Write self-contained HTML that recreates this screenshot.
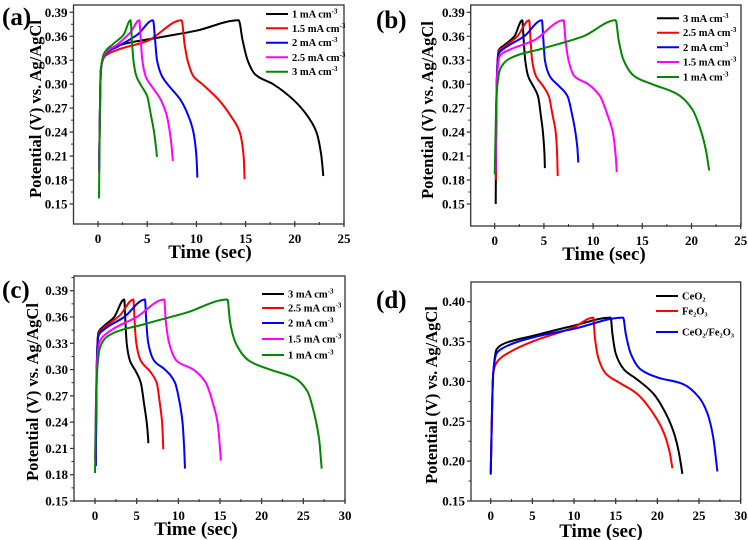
<!DOCTYPE html>
<html><head><meta charset="utf-8">
<style>
html,body{margin:0;padding:0;background:#fff;}
svg{display:block;font-family:"Liberation Serif",serif;font-weight:bold;}
</style></head>
<body>
<svg id="fig" width="748" height="540" viewBox="0 0 748 540" xmlns="http://www.w3.org/2000/svg"></svg>
<script>
// ---- data (time sec, potential V) ----
const aLabels = ["1 mA cm","1.5 mA cm","2 mA cm","2.5 mA cm","3 mA cm"];
const aBlack = [[0.1,0.19],[0.3,0.32],[0.7,0.338],[2,0.348],[6,0.358],[10,0.367],[14.3,0.38],[14.7,0.355],[15.2,0.33],[16,0.312],[17.8,0.30],[19.9,0.28],[21.3,0.26],[22.2,0.24],[22.7,0.21],[22.9,0.185]];
const aRed = [[0.1,0.19],[0.3,0.32],[0.7,0.335],[2,0.343],[5,0.354],[8.5,0.38],[8.8,0.35],[9.1,0.33],[9.7,0.31],[10.6,0.30],[12.3,0.28],[13.5,0.26],[14.4,0.24],[14.8,0.21],[14.9,0.181]];
const aBlue = [[0.1,0.19],[0.3,0.32],[0.7,0.337],[2,0.347],[4,0.362],[5.6,0.38],[5.8,0.355],[6.0,0.33],[6.5,0.31],[7.2,0.298],[8.4,0.28],[9.2,0.26],[9.7,0.24],[10.0,0.21],[10.1,0.183]];
const aMag = [[0.1,0.19],[0.3,0.32],[0.7,0.338],[2,0.35],[3.3,0.365],[4.2,0.38],[4.35,0.355],[4.5,0.33],[4.9,0.308],[5.6,0.295],[6.4,0.28],[7.0,0.26],[7.3,0.24],[7.5,0.22],[7.6,0.204]];
const aGreen = [[0.1,0.157],[0.25,0.31],[0.6,0.338],[1.5,0.35],[2.6,0.362],[3.3,0.38],[3.45,0.355],[3.6,0.33],[3.9,0.31],[4.4,0.298],[5.0,0.285],[5.4,0.26],[5.7,0.24],[5.9,0.22],[6.0,0.209]];

const bLabels = ["3 mA cm","2.5 mA cm","2 mA cm","1.5 mA cm","1 mA cm"];
const bBlack = [[0.1,0.15],[0.2,0.3],[0.4,0.342],[1,0.349],[2,0.36],[2.8,0.38],[2.95,0.355],[3.1,0.33],[3.4,0.31],[3.9,0.298],[4.4,0.285],[4.7,0.26],[4.9,0.24],[5.05,0.215],[5.1,0.195]];
const bRed = [[0.1,0.18],[0.2,0.3],[0.4,0.34],[1,0.347],[2.3,0.36],[3.5,0.38],[3.65,0.355],[3.8,0.33],[4.2,0.31],[4.9,0.298],[5.5,0.285],[5.9,0.26],[6.2,0.24],[6.35,0.21],[6.4,0.185]];
const bBlue = [[0.1,0.19],[0.2,0.3],[0.4,0.338],[1,0.345],[3,0.36],[4.8,0.38],[4.95,0.355],[5.1,0.33],[5.6,0.31],[6.5,0.298],[7.4,0.285],[7.9,0.26],[8.2,0.24],[8.4,0.22],[8.5,0.202]];
const bMag = [[0.1,0.19],[0.2,0.3],[0.5,0.335],[1.5,0.343],[4,0.355],[7.0,0.38],[7.2,0.355],[7.5,0.33],[8.1,0.31],[9.5,0.3],[10.7,0.285],[11.5,0.26],[12.0,0.24],[12.3,0.21],[12.4,0.19]];
const bGreen = [[0,0.187],[0.2,0.29],[0.6,0.32],[1.5,0.332],[5,0.345],[9,0.36],[12.3,0.38],[12.6,0.355],[13.1,0.33],[14.2,0.31],[16,0.3],[18.5,0.288],[20,0.27],[21,0.24],[21.5,0.215],[21.8,0.192]];

const cLabels = ["3 mA cm","2.5 mA cm","2 mA cm","1.5 mA cm","1 mA cm"];
const cBlack = [[0.1,0.19],[0.2,0.3],[0.4,0.342],[1,0.349],[2.3,0.36],[3.5,0.38],[3.65,0.355],[3.8,0.33],[4.2,0.31],[4.9,0.298],[5.5,0.285],[5.9,0.26],[6.2,0.24],[6.35,0.225],[6.4,0.216]];
const cRed = [[0.1,0.19],[0.2,0.3],[0.4,0.34],[1,0.347],[3,0.362],[4.6,0.38],[4.75,0.355],[4.95,0.33],[5.5,0.31],[6.6,0.298],[7.4,0.285],[7.8,0.26],[8.05,0.24],[8.2,0.209]];
const cBlue = [[0.1,0.19],[0.2,0.3],[0.4,0.338],[1,0.345],[3.5,0.36],[6.0,0.38],[6.15,0.355],[6.4,0.33],[7.1,0.31],[8.4,0.3],[9.6,0.285],[10.2,0.26],[10.5,0.24],[10.7,0.21],[10.8,0.187]];
const cMag = [[0,0.196],[0.2,0.3],[0.5,0.33],[1.5,0.342],[5,0.36],[8.3,0.38],[8.5,0.355],[8.9,0.33],[9.8,0.31],[11.8,0.3],[13.3,0.285],[14.2,0.26],[14.7,0.24],[15,0.21],[15.1,0.196]];
const cGreen = [[0,0.182],[0.2,0.29],[0.6,0.325],[1.5,0.338],[6,0.352],[11,0.365],[15.9,0.38],[16.2,0.355],[16.9,0.33],[18.5,0.31],[21,0.3],[24,0.29],[25.5,0.275],[26.3,0.25],[26.9,0.22],[27.2,0.187]];

const dLabels = ["CeO₂","Fe₂O₃","CeO₂/Fe₂O₃"];
const dBlack = [[0,0.185],[0.3,0.31],[0.7,0.34],[1.5,0.347],[5,0.357],[10,0.37],[14.4,0.38],[14.6,0.36],[15,0.335],[16,0.315],[17.5,0.303],[19.5,0.285],[21,0.26],[22,0.235],[22.6,0.21],[23,0.184]];
const dRed = [[0,0.185],[0.3,0.31],[0.8,0.325],[2,0.335],[5,0.35],[10,0.368],[12.3,0.38],[12.5,0.355],[12.9,0.33],[13.8,0.31],[15.5,0.298],[17.5,0.285],[19.5,0.26],[20.8,0.235],[21.5,0.21],[21.8,0.191]];
const dBlue = [[0,0.183],[0.3,0.31],[0.7,0.335],[1.5,0.342],[5,0.355],[10,0.366],[15.9,0.38],[16.2,0.36],[16.8,0.335],[18,0.315],[20,0.305],[23,0.297],[25,0.28],[26,0.26],[26.7,0.23],[27.2,0.187]];

const xTicksAB = [0,5,10,15,20,25];
const xTicksCD = [0,5,10,15,20,25,30];
const yTicksABC = [0.15,0.18,0.21,0.24,0.27,0.30,0.33,0.36,0.39];
const yTicksD = [0.15,0.20,0.25,0.30,0.35,0.40];

const NS="http://www.w3.org/2000/svg";
const svg=document.getElementById('fig');
function mk(tag,attrs,parent){const e=document.createElementNS(NS,tag);for(const k in attrs)e.setAttribute(k,attrs[k]);(parent||svg).appendChild(e);return e;}

function smoothPath(P){
  const n=P.length; if(n<3) return P.map((p,i)=>(i?'L':'M')+p[0]+' '+p[1]).join(' ');
  const dx=[],dy=[],m=[];
  for(let i=0;i<n-1;i++){dx[i]=P[i+1][0]-P[i][0];dy[i]=P[i+1][1]-P[i][1];m[i]=dy[i]/dx[i];}
  const t=[m[0]];
  for(let i=1;i<n-1;i++){t[i]=(m[i-1]*m[i]<=0)?0:(3*(dx[i-1]+dx[i]))/((2*dx[i]+dx[i-1])/m[i-1]+(dx[i]+2*dx[i-1])/m[i]);}
  t[n-1]=m[n-2];
  let d='M'+P[0][0].toFixed(1)+' '+P[0][1].toFixed(1);
  for(let i=0;i<n-1;i++){
    const h=dx[i]/3;
    d+=' C'+(P[i][0]+h).toFixed(1)+' '+(P[i][1]+t[i]*h).toFixed(1)+' '+(P[i+1][0]-h).toFixed(1)+' '+(P[i+1][1]-t[i+1]*h).toFixed(1)+' '+P[i+1][0].toFixed(1)+' '+P[i+1][1].toFixed(1);
  }
  return d;
}

const panels=[
 {id:'a',L:73.5,R:344,T:5,B:224,x0:98,x1:344,xv1:25,y0:204,y1:12.3,yv0:0.15,yv1:0.39,xt:xTicksAB,yt:yTicksABC,
  series:[aBlack,aRed,aBlue,aMag,aGreen],colors:['#000','#f00','#00f','#f0f','#080'],labels:aLabels,sup:true,
  lx:266,ly:[14,28.3,42.7,57.3,71.7],lab:[2,25],ytx:41,yty:109,xtx:210,xty:258},
 {id:'b',L:470.7,R:741,T:5,B:226,x0:494.7,x1:740.7,xv1:25,y0:204,y1:12.3,yv0:0.15,yv1:0.39,xt:xTicksAB,yt:yTicksABC,
  series:[bBlack,bRed,bBlue,bMag,bGreen],colors:['#000','#f00','#00f','#f0f','#080'],labels:bLabels,sup:true,
  lx:657,ly:[18.3,32.7,47.3,62,77],lab:[376,28],ytx:433,yty:110,xtx:604,xty:260},
 {id:'c',L:74,R:345,T:276,B:501,x0:95,x1:345,xv1:30,y0:501,y1:290.7,yv0:0.15,yv1:0.39,xt:xTicksCD,yt:yTicksABC,
  series:[cBlack,cRed,cBlue,cMag,cGreen],colors:['#000','#f00','#00f','#f0f','#080'],labels:cLabels,sup:true,
  lx:262,ly:[294,308,323,339,355],lab:[2,298],ytx:38,yty:392,xtx:196,xty:535},
 {id:'d',L:471,R:740.7,T:282,B:501,x0:490.7,x1:740.7,xv1:30,y0:501,y1:301.7,yv0:0.15,yv1:0.40,xt:xTicksCD,yt:yTicksD,
  series:[dBlack,dRed,dBlue],colors:['#000','#f00','#00f'],labels:dLabels,sup:false,
  lx:656,ly:[296,311,332],lab:[376,308],ytx:437,yty:395,xtx:601,xty:537}
];
const names={a:'panel-a',b:'panel-b',c:'panel-c',d:'panel-d'};

panels.forEach(p=>{
  const g=mk('g',{});
  
  
  const X=v=>p.x0+(v)*(p.x1-p.x0)/p.xv1;
  const Y=v=>p.y0+(v-p.yv0)*(p.y1-p.y0)/(p.yv1-p.yv0);
  p.series.forEach((s,i)=>{
    const d=smoothPath(s.map(pt=>[X(pt[0]),Y(pt[1])]));
    const path=mk('path',{d:d,fill:'none',stroke:p.colors[i],'stroke-width':2,'stroke-linejoin':'round'},g);
    
    
  });
  const fr=mk('rect',{x:p.L,y:p.T,width:p.R-p.L,height:p.B-p.T,fill:'none',stroke:'#333','stroke-width':1.3},g);
  
  
  p.xt.forEach((v,i)=>{
    const x=X(v);
    mk('line',{x1:x,x2:x,y1:p.B-3,y2:p.B+3,stroke:'#333','stroke-width':1.2},g);
    if(i<p.xt.length-1){const xm=X(v+2.5);mk('line',{x1:xm,x2:xm,y1:p.B-2,y2:p.B+1,stroke:'#333','stroke-width':1},g);}
    const t=mk('text',{x:x,y:p.B+19,'text-anchor':'middle','font-size':13},g);t.textContent=String(v);
    
    
  });
  const xm0=X(-2.5); if(xm0>p.L) mk('line',{x1:xm0,x2:xm0,y1:p.B-2,y2:p.B+1,stroke:'#333','stroke-width':1},g);
  const step=p.yt[1]-p.yt[0];
  p.yt.forEach((v,i)=>{
    const y=Y(v);
    mk('line',{x1:p.L-4,x2:p.L,y1:y,y2:y,stroke:'#333','stroke-width':1.2},g);
    const ym=Y(v+step/2); if(ym>p.T) mk('line',{x1:p.L-2.5,x2:p.L,y1:ym,y2:ym,stroke:'#333','stroke-width':1},g);
    const t=mk('text',{x:p.L-6,y:y+4.5,'text-anchor':'end','font-size':13},g);t.textContent=v.toFixed(2);
    
    
  });
  const yt=mk('text',{x:p.ytx,y:p.yty,'text-anchor':'middle','font-size':16.5,transform:'rotate(-90 '+p.ytx+' '+p.yty+')'},g);
  yt.textContent='Potential (V) vs. Ag/AgCl';
  
  
  const xt=mk('text',{x:p.xtx,y:p.xty,'text-anchor':'middle','font-size':19},g);
  xt.textContent='Time (sec)';
  
  
  const pl=mk('text',{x:p.lab[0],y:p.lab[1],'font-size':25},g);
  pl.textContent='('+p.id+')';
  
  
  p.labels.forEach((lb,i)=>{
    const y=p.ly[i];
    const le=mk('g',{},g);
    
    
    mk('line',{x1:p.lx,x2:p.lx+22,y1:y,y2:y,stroke:p.colors[i],'stroke-width':2},le);
    const t=mk('text',{x:p.lx+26,y:y+3.5,'font-size':10.5},le);
    t.textContent=lb;
    if(p.sup){const s=mk('tspan',{dy:-4,'font-size':7},t);s.textContent='-3';}
  });
});
</script>
</body></html>
